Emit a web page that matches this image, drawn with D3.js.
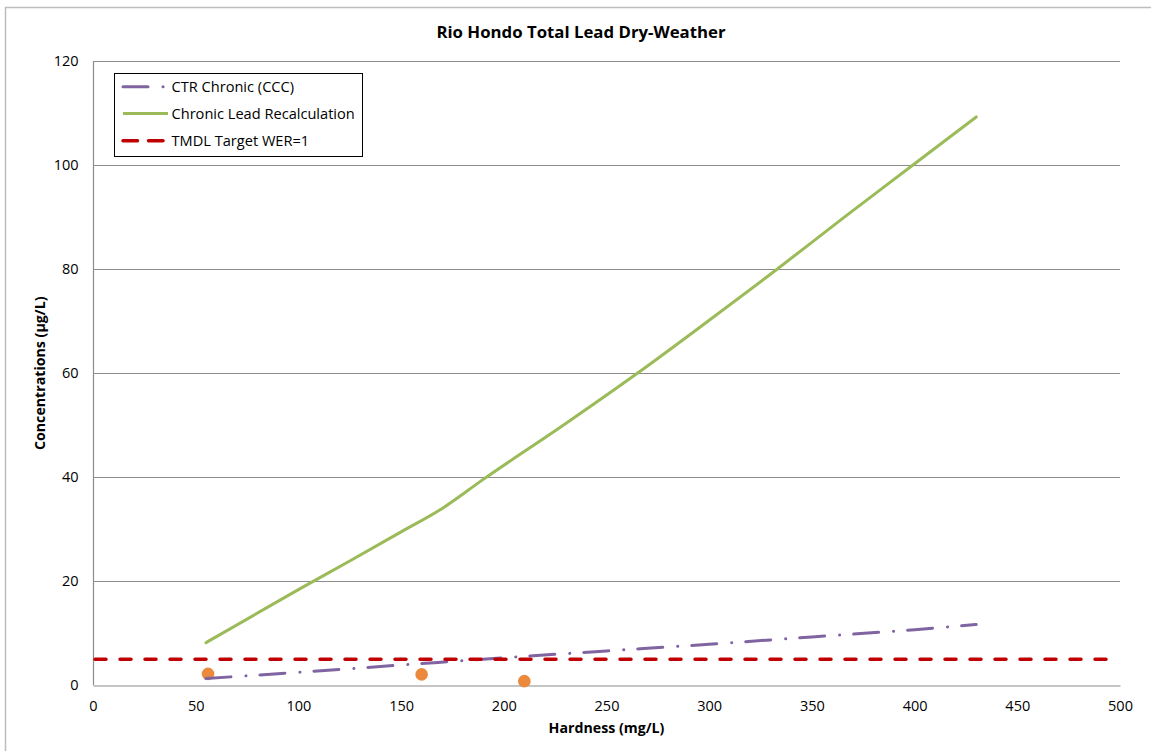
<!DOCTYPE html>
<html>
<head>
<meta charset="utf-8">
<script src="https://cdn.jsdelivr.net/npm/d3@7"></script>
<style>
  html, body { margin: 0; padding: 0; background: #ffffff; }
  svg { display: block; }
  text { font-family: "Open Sans", "Noto Sans", "Liberation Sans", sans-serif; fill: #000; }
</style>
</head>
<body>
<svg id="chart" width="1151" height="751"></svg>
<script>
// Hardness (mg/L) vs. concentration (µg/L)
const ctrHardness   = [55, 100, 150, 200, 250, 300, 350, 400, 430];
const ctrChronic    = [1.3, 2.5, 3.9, 5.3, 6.6, 7.9, 9.3, 10.7, 11.7];

const recalcHardness = [55, 100, 125, 150, 170, 190, 230, 265, 300, 333, 365, 400, 430];
const recalcChronic  = [8.2, 18.4, 23.9, 29.5, 34.0, 39.6, 50.3, 60.0, 70.2, 80.0, 89.8, 100.3, 109.3];

const tmdlHardness = [0, 500];
const tmdlTarget   = [5, 5];

const sampleHardness = [56, 160, 210];
const sampleLead     = [2.2, 2.1, 0.8];

const xTicks = [0, 50, 100, 150, 200, 250, 300, 350, 400, 450, 500];
const yTicks = [0, 20, 40, 60, 80, 100, 120];

const legendLabels = ["CTR Chronic (CCC)", "Chronic Lead Recalculation", "TMDL Target WER=1"];

const colors = { ctr: "#8064A2", recalc: "#9BBB59", tmdl: "#C00000", sample: "#EB8A3C", grid: "#8C8C8C" };

const svg = d3.select("#chart");
const plot = { left: 93, right: 1120, top: 61.3, bottom: 685.3 };

const x = d3.scaleLinear().domain([0, 500]).range([plot.left, plot.right]);
const y = d3.scaleLinear().domain([0, 120]).range([plot.bottom, plot.top]);

// outer chart frame
svg.append("rect")
  .attr("x", 5.5).attr("y", 7.5).attr("width", 1170).attr("height", 770)
  .attr("fill", "#fff").attr("stroke", "#BDBDBD").attr("stroke-width", 1.5);

// horizontal gridlines
svg.append("g").selectAll("line").data(yTicks.filter(d => d > 0)).join("line")
  .attr("x1", plot.left).attr("x2", plot.right)
  .attr("y1", d => Math.round(y(d)) + 0.5).attr("y2", d => Math.round(y(d)) + 0.5)
  .attr("stroke", colors.grid).attr("stroke-width", 1);

// axes
const xAxis = d3.axisBottom(x).tickValues(xTicks).tickSize(0).tickPadding(15);
const yAxis = d3.axisLeft(y).tickValues(yTicks).tickSize(0).tickPadding(15);

const gx = svg.append("g").attr("transform", `translate(0,${Math.round(plot.bottom) + 0.5})`).call(xAxis);
const gy = svg.append("g").attr("transform", `translate(${plot.left + 0.5},0)`).call(yAxis);
[gx, gy].forEach(g => {
  g.select(".domain").attr("stroke", colors.grid).attr("stroke-width", 1.2);
  g.selectAll("text").style("font-size", "14.5px").attr("fill", "#000");
});
gy.select(".domain").attr("d", `M0,${plot.bottom}V${Math.round(plot.top)}`);

// sample points
svg.append("g").selectAll("circle").data(sampleHardness).join("circle")
  .attr("cx", (d, i) => x(d)).attr("cy", (d, i) => y(sampleLead[i]))
  .attr("r", 6.3).attr("fill", colors.sample);

const line = (xs, ys) => d3.line()
  .x((d, i) => x(xs[i])).y((d, i) => y(ys[i]))
  .curve(d3.curveMonotoneX)(xs);

// recalculated chronic criterion
svg.append("path").attr("d", line(recalcHardness, recalcChronic))
  .attr("fill", "none").attr("stroke", colors.recalc).attr("stroke-width", 3)
  .attr("stroke-linecap", "round");

// CTR chronic criterion
svg.append("path").attr("d", line(ctrHardness, ctrChronic))
  .attr("fill", "none").attr("stroke", colors.ctr).attr("stroke-width", 3)
  .attr("stroke-linecap", "round").attr("stroke-dasharray", "25,15,0.1,14");

// TMDL target
svg.append("path").attr("d", d3.line().x((d, i) => x(tmdlHardness[i])).y((d, i) => y(tmdlTarget[i]))(tmdlHardness))
  .attr("fill", "none").attr("stroke", colors.tmdl).attr("stroke-width", 3.5)
  .attr("stroke-linecap", "round").attr("stroke-dasharray", "11,14")
  .attr("stroke-dashoffset", -2);

// title and axis titles
svg.append("text").attr("x", 581).attr("y", 37.5).attr("text-anchor", "middle")
  .style("font-size", "16.8px").style("font-weight", "bold")
  .text("Rio Hondo Total Lead Dry-Weather");

svg.append("text").attr("x", (plot.left + plot.right) / 2).attr("y", 733).attr("text-anchor", "middle")
  .style("font-size", "14.2px").style("font-weight", "bold")
  .text("Hardness (mg/L)");

svg.append("text").attr("transform", `translate(44.5,${(plot.top + plot.bottom) / 2}) rotate(-90)`)
  .attr("text-anchor", "middle")
  .style("font-size", "14.2px").style("font-weight", "bold")
  .text("Concentrations (µg/L)");

// legend
const legend = svg.append("g");
legend.append("rect").attr("x", 114.5).attr("y", 73.5).attr("width", 248).attr("height", 83)
  .attr("fill", "#fff").attr("stroke", "#000").attr("stroke-width", 1);

const legendStyles = [
  { color: colors.ctr, width: 3, dash: "25,15,0.1,14" },
  { color: colors.recalc, width: 3, dash: null },
  { color: colors.tmdl, width: 3.5, dash: "14.5,11" }
];
const legendY = [86.7, 113.5, 140.7];
legendLabels.forEach((label, i) => {
  const s = legendStyles[i];
  legend.append("line")
    .attr("x1", 123).attr("x2", 168).attr("y1", legendY[i]).attr("y2", legendY[i])
    .attr("stroke", s.color).attr("stroke-width", s.width)
    .attr("stroke-linecap", i === 1 ? "butt" : "round")
    .attr("stroke-dasharray", s.dash);
  legend.append("text").attr("x", 171.5).attr("y", legendY[i]).attr("dy", "0.35em")
    .style("font-size", "14.6px").text(label);
});
</script>
</body>
</html>
